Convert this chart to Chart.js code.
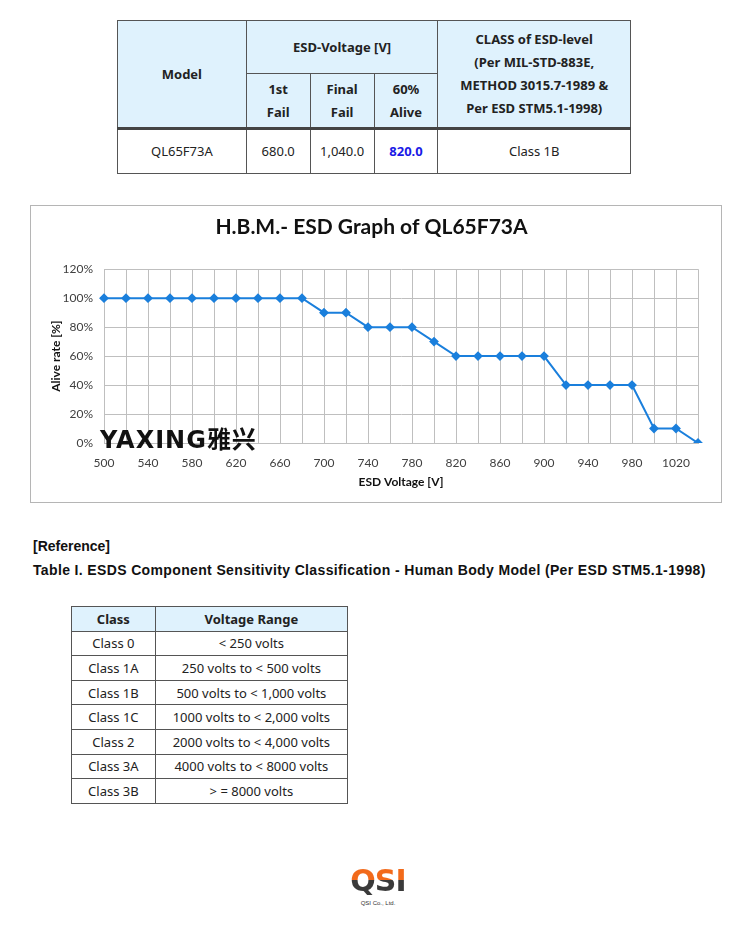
<!DOCTYPE html>
<html>
<head>
<meta charset="utf-8">
<script src="https://cdn.jsdelivr.net/npm/chart.js@4/dist/chart.umd.min.js"></script>
<style>
  body { margin: 0; background: #fff; }
  #page { position: relative; width: 750px; height: 927px; background: #fff; overflow: hidden; }
  table { border-collapse: collapse; position: absolute; font-family: "Noto Sans", sans-serif; color: #222; }
  td, th { border: 1px solid #555; text-align: center; padding: 0; }
  th { background: #dff2fd; font-weight: bold; }
  #top { left: 117px; top: 20px; width: 514px; font-size: 13px; line-height: 23px; }
  #top tr.sep td { border-top: 3px solid #444; }
  #cls { left: 71px; top: 606px; width: 277px; font-size: 13px; }
  #cls th, #cls td { height: 23.6px; }
  #chartBox { position: absolute; left: 30px; top: 205px; width: 690px; height: 296px; border: 1px solid #b5b5b5; }
  #chartWrap { position: absolute; left: 0; top: 0; width: 690px; height: 296px; }
  #mark { position: absolute; left: 100px; top: 427px; font-family: "DejaVu Sans", "Noto Sans CJK SC", sans-serif; font-weight: bold; font-size: 24px; line-height: 26px; color: #111; letter-spacing: 1px; }
  .ref { position: absolute; left: 33px; font-family: "Liberation Sans", Arial, sans-serif; font-weight: bold; color: #111; }
  #logo { position: absolute; left: 350px; top: 864px; width: 56px; text-align: center; }
  #logo .q { font-family: "DejaVu Sans", sans-serif; font-weight: bold; font-size: 30px; line-height: 34px; letter-spacing: -1px;
             background: linear-gradient(#f26a1b 0, #f26a1b 48%, #3a3a3a 48%, #3a3a3a 100%);
             -webkit-background-clip: text; background-clip: text; color: transparent; }
  #logo .c { font-family: "Liberation Sans", sans-serif; font-size: 6px; color: #333; line-height: 8px; margin-top: 1px; }
</style>
</head>
<body>
<div id="page">

  <table id="top">
    <colgroup><col style="width:129px"><col style="width:64px"><col style="width:64px"><col style="width:64px"><col style="width:193px"></colgroup>
    <tr style="height:53px">
      <th rowspan="2">Model</th>
      <th colspan="3">ESD-Voltage [V]</th>
      <th rowspan="2">CLASS of ESD-level<br>(Per MIL-STD-883E,<br>METHOD 3015.7-1989 &amp;<br>Per ESD STM5.1-1998)</th>
    </tr>
    <tr style="height:55px">
      <th>1st<br>Fail</th>
      <th>Final<br>Fail</th>
      <th>60%<br>Alive</th>
    </tr>
    <tr class="sep" style="height:45px">
      <td>QL65F73A</td>
      <td>680.0</td>
      <td>1,040.0</td>
      <td style="color:#1a1ae6;font-weight:bold">820.0</td>
      <td>Class 1B</td>
    </tr>
  </table>

  <div id="chartBox"><div id="chartWrap"><canvas id="c"></canvas></div></div>
  <div id="mark">YAXING雅兴</div>

  <div class="ref" style="top:538px;font-size:14px">[Reference]</div>
  <div class="ref" style="top:562px;font-size:14px;letter-spacing:0.36px">Table I. ESDS Component Sensitivity Classification - Human Body Model (Per ESD STM5.1-1998)</div>

  <table id="cls">
    <colgroup><col style="width:84px"><col style="width:193px"></colgroup>
    <tr><th>Class</th><th>Voltage Range</th></tr>
    <tr><td>Class 0</td><td>&lt; 250 volts</td></tr>
    <tr><td>Class 1A</td><td>250 volts to &lt; 500 volts</td></tr>
    <tr><td>Class 1B</td><td>500 volts to &lt; 1,000 volts</td></tr>
    <tr><td>Class 1C</td><td>1000 volts to &lt; 2,000 volts</td></tr>
    <tr><td>Class 2</td><td>2000 volts to &lt; 4,000 volts</td></tr>
    <tr><td>Class 3A</td><td>4000 volts to &lt; 8000 volts</td></tr>
    <tr><td>Class 3B</td><td>&gt; = 8000 volts</td></tr>
  </table>

  <div id="logo"><div class="q">QSI</div><div class="c">QSI Co., Ltd.</div></div>
</div>

<script>
// ESD steps (V) and alive rate (%)
const voltages = ['500', '520', '540', '560', '580', '600', '620', '640', '660', '680',
  '700', '720', '740', '760', '780', '800', '820', '840', '860', '880',
  '900', '920', '940', '960', '980', '1000', '1020', '1040']
const aliveRate = [100, 100, 100, 100, 100, 100, 100, 100, 100, 100,
  90, 90, 80, 80, 80, 70, 60, 60, 60, 60,
  60, 40, 40, 40, 40, 10, 10, 0]

const GRID = '#bfbfbf'
const TXT = '#404040'
const FONT = 'Lato, "Open Sans", sans-serif'

new Chart(document.getElementById('c'), {
  type: 'line',
  data: {
    labels: voltages,
    datasets: [{
      data: aliveRate,
      borderColor: '#1a7fdc',
      backgroundColor: '#1a7fdc',
      borderWidth: 2,
      pointStyle: 'rectRot',
      pointRadius: 3.5,
      tension: 0,
    }],
  },
  options: {
    animation: false,
    responsive: true,
    maintainAspectRatio: false,
    layout: { padding: { left: 14, right: 23, top: 0, bottom: 10 } },
    plugins: {
      legend: { display: false },
      tooltip: { enabled: false },
      title: {
        display: true,
        text: 'H.B.M.- ESD Graph of QL65F73A',
        color: '#111',
        font: { family: FONT, size: 21, weight: 'bold' },
        padding: { top: 9, bottom: 29 },
      },
    },
    scales: {
      x: {
        offset: false,
        grid: { color: GRID, drawTicks: false },
        border: { color: GRID },
        ticks: {
          color: TXT, font: { family: FONT, size: 12 }, padding: 13,
          autoSkip: false, maxRotation: 0,
          callback: (v, i) => i % 2 === 0 ? voltages[i] : '',
        },
        title: { display: true, text: 'ESD Voltage [V]', color: '#111', font: { family: FONT, size: 12, weight: 'bold' }, padding: { top: 0, bottom: 3 } },
        afterFit: s => { s.height = 49 },
      },
      y: {
        min: 0, max: 120,
        grid: { color: GRID, drawTicks: false },
        border: { color: GRID },
        ticks: { stepSize: 20, color: TXT, font: { family: FONT, size: 12 }, padding: 11, callback: v => v + '%' },
        title: { display: true, text: 'Alive rate [%]', color: '#111', font: { family: FONT, size: 12, weight: 'bold' }, padding: { top: 4, bottom: 0 } },
        afterFit: s => { s.width = 59 },
      },
    },
  },
})
</script>
</body>
</html>
